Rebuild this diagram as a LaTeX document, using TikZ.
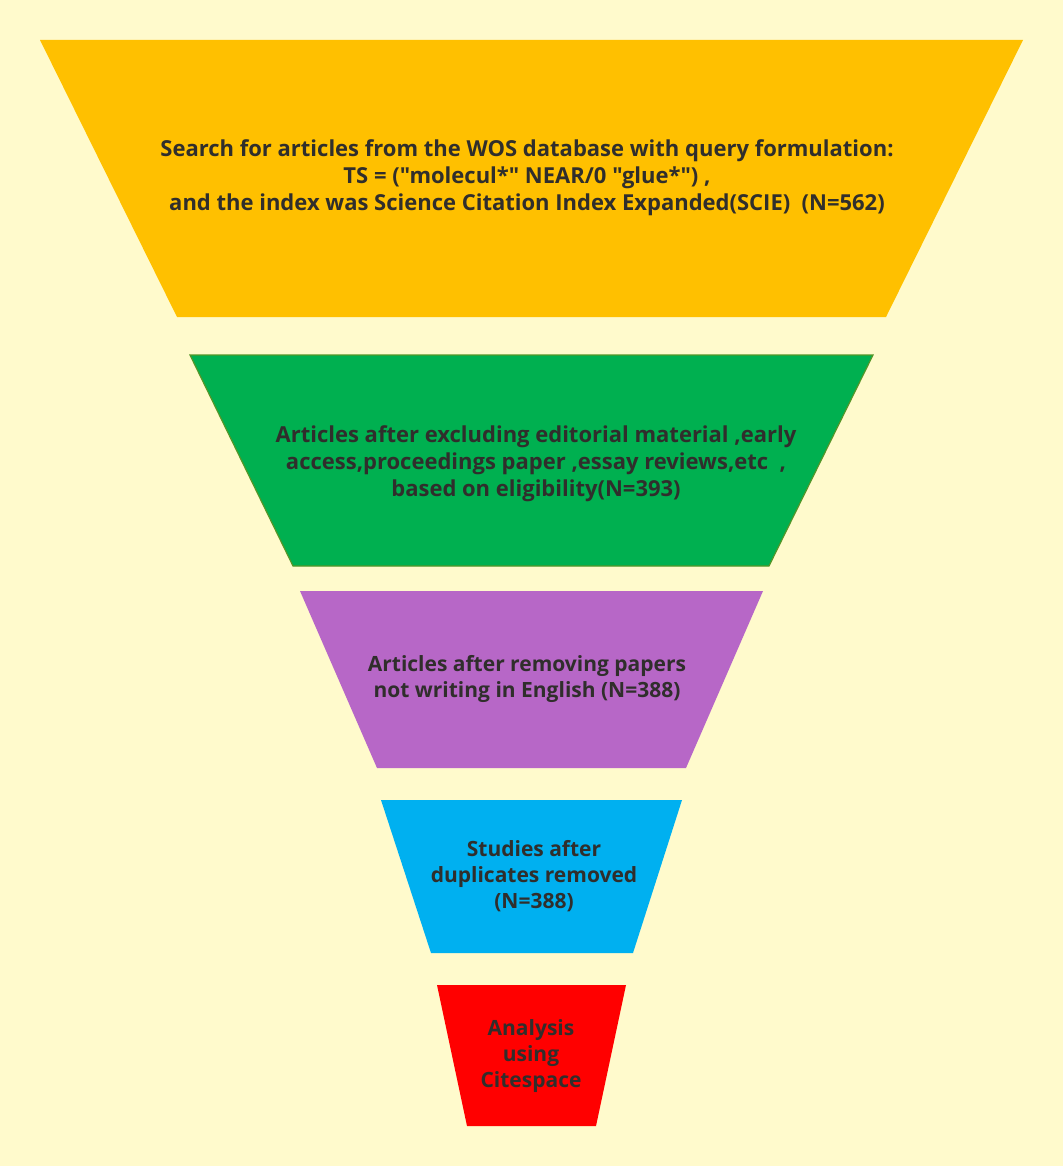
\documentclass[tikz,border=0pt]{standalone}
\usepackage{fontspec}
\setmainfont{Open Sans}[Ligatures=TeXOff]
\definecolor{paper}{RGB}{255,250,204}
\definecolor{gold}{RGB}{255,192,0}
\definecolor{leaf}{RGB}{0,176,80}
\definecolor{leafedge}{RGB}{84,150,40}
\definecolor{orchid}{RGB}{183,103,199}
\definecolor{sky}{RGB}{0,176,240}
\definecolor{alarm}{RGB}{255,0,0}
\definecolor{ink}{RGB}{48,46,44}
\tikzset{stage/.style = {font=\bfseries\fontsize{22}{27}\selectfont, align=center, text=ink},
         small stage/.style = {stage, font=\bfseries\fontsize{21}{26}\selectfont},
         band/.style = {line join=miter}}

\begin{document}
\begin{tikzpicture}[x=1pt,y=-1pt]
\fill[paper] (0,0) rectangle (1063,1166);
\useasboundingbox (0,0) rectangle (1063,1166);
% funnel layers
\fill[gold, band] (40,40) -- (1023,40) -- (886,317) -- (177,317) -- cycle;
\filldraw[fill=leaf, draw=leafedge, line width=1.2pt, band] (190,355) -- (873,355) -- (769,566) -- (293,566) -- cycle;
\fill[orchid, band] (300,591) -- (763,591) -- (686,768) -- (377,768) -- cycle;
\fill[sky, band] (381,800) -- (682,800) -- (633,953) -- (431,953) -- cycle;
\fill[alarm, band] (437,985) -- (626,985) -- (596,1126) -- (467,1126) -- cycle;
% texts
\node[stage] (search) at (527,178) {Search for articles from the WOS database with query formulation:\\
  TS = ("molecul*" NEAR/0 "glue*") ,\\
  and the index was Science Citation Index Expanded(SCIE)\ \ (N=562)};
\node[stage] (exclude) at (536,464) {Articles after excluding editorial material ,early\\
  access,proceedings paper ,essay reviews,etc\ \ ,\\
  based on eligibility(N=393)};
\node[small stage] (english) at (527,679) {Articles after removing papers\\ not writing in English (N=388)};
\node[small stage] (dupl) at (534,876) {Studies after\\ duplicates removed\\ (N=388)};
\node[small stage] (cite) at (531,1056) {Analysis\\ using\\ Citespace};
\end{tikzpicture}
\end{document}
